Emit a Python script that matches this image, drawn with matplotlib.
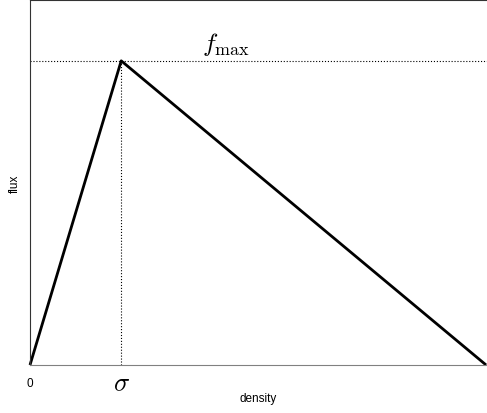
import matplotlib.pyplot as plt
from matplotlib.transforms import offset_copy

plt.rcParams['mathtext.fontset'] = 'cm'
plt.rcParams['font.family'] = ['Liberation Sans', 'DejaVu Sans']

density = [0.0, 0.2, 1.0]
flux = [0.0, 1.0, 0.0]
sigma = 0.2
f_max = 1.0

fig = plt.figure(figsize=(4.87, 4.14), dpi=100)
ax = fig.add_axes([30 / 487, 48 / 414, 457 / 487, 365 / 414])

ax.plot(density, flux, color='black', linewidth=2, solid_capstyle='butt', clip_on=False)
ax.axhline(y=f_max, color='black', linestyle=':', linewidth=0.8)
ax.plot([sigma, sigma], [0, f_max], color='black', linestyle=':', linewidth=0.8)
ax.text(0.43, 1.036, r'$f_{\max}$', fontsize=18.5, ha='center', va='baseline')

ax.set_xlim(0, 1.002)
ax.set_ylim(0, 1.2)
ax.set_xticks([0, sigma])
ax.set_xticklabels(['0', r'$\sigma$'])
ax.tick_params(axis='x', length=0, pad=9)
zero_lbl, sigma_lbl = ax.get_xticklabels()
zero_lbl.set_fontsize(8.5)
sigma_lbl.set_fontsize(19)
sigma_lbl.set_transform(offset_copy(sigma_lbl.get_transform(), fig=fig, y=6, units='dots'))
ax.set_yticks([])
ax.spines['right'].set_visible(False)
ax.spines['bottom'].set_color('gray')
ax.spines['left'].set_color('#333333')
ax.spines['top'].set_color('#333333')
ax.set_xlabel('density', fontsize=8.5)
ax.xaxis.set_label_coords(0.5, -0.075)
ax.set_ylabel('flux', fontsize=8.5)
ax.yaxis.set_label_coords(-0.02, 0.5)

plt.savefig('out.png')
plt.close()
